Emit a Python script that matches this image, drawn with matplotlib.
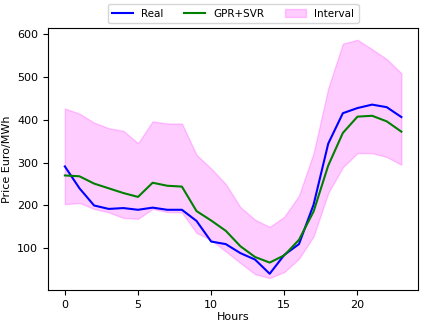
import matplotlib
matplotlib.use("Agg")
import matplotlib.pyplot as plt
import numpy as np

hours = list(range(24))
real = [291, 240, 200, 192, 194, 190, 195, 190, 190, 164, 116, 110, 89, 74, 41, 85, 110, 202, 344, 415, 427, 435, 429, 406]
gpr_svr = [270, 268, 251, 240, 229, 220, 253, 246, 244, 187, 165, 141, 105, 80, 67, 84, 120, 186, 293, 369, 407, 409, 396, 372]
upper = [426, 414, 393, 380, 374, 345, 396, 391, 391, 318, 286, 250, 196, 167, 150, 174, 223, 322, 473, 577, 586, 564, 541, 508]
lower = [203, 206, 192, 184, 171, 169, 192, 185, 184, 136, 120, 93, 66, 40, 31, 45, 76, 128, 229, 289, 322, 322, 313, 295]

fig = plt.figure(figsize=(4.25, 3.28), dpi=100)
ax = fig.add_axes([0.113, 0.116, 0.871, 0.799])
ax.plot(hours, real, color='blue', lw=1.5, label='Real')
ax.plot(hours, gpr_svr, color='green', lw=1.5, label='GPR+SVR')
ax.fill_between(hours, lower, upper, color='magenta', alpha=0.2, label='Interval')
ax.set_xlabel('Hours', fontsize=8, labelpad=2)
ax.set_ylabel('Price Euro/MWh', fontsize=8)
ax.tick_params(labelsize=8)
ax.set_xticks([0, 5, 10, 15, 20])
ax.legend(loc='lower center', bbox_to_anchor=(0.5, 1.0), ncol=3, fontsize=7.5, frameon=True)
fig.savefig('out.png', dpi=100)
